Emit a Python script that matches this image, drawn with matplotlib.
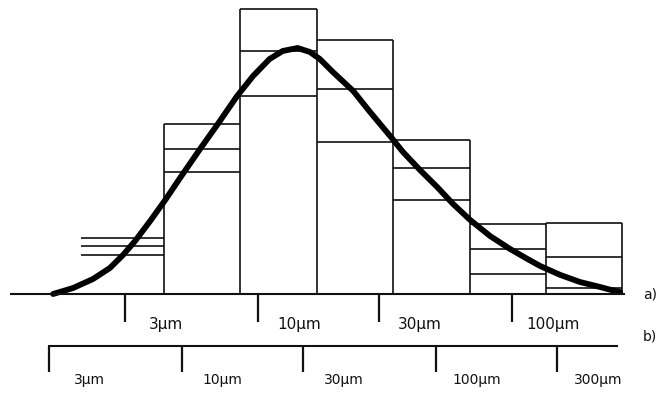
import numpy as np
import matplotlib.pyplot as plt

# size classes (µm, scale a), octave bins
bin_edges = [2.0, 4.25, 8.5, 17.0, 34.0, 68.0, 136.0, 272.0]
# three frequency levels drawn in each class (arbitrary units)
level_top = [5.6, 17.0, 28.5, 25.4, 15.4, 7.0, 7.1]
level_mid = [4.8, 14.5, 24.3, 20.5, 12.6, 4.5, 3.7]
level_low = [3.9, 12.2, 19.8, 15.2, 9.4, 2.0, 0.6]

# smooth distribution curve
curve_um = [1.56, 1.87, 2.24, 2.61, 2.94, 3.28, 3.76, 4.31, 4.93, 5.91,
            6.90, 8.27, 9.56, 11.1, 12.5, 14.3, 16.0, 17.5, 19.7, 23.7,
            27.6, 33.1, 37.2, 43.4, 50.7, 58.6, 68.4, 81.9, 98.2, 115,
            129, 155, 185, 222, 250, 266]
curve_h = [0.0, 0.6, 1.5, 2.6, 3.9, 5.3, 7.3, 9.4, 11.6, 14.5,
           16.9, 19.8, 21.8, 23.5, 24.3, 24.6, 24.2, 23.5, 22.2, 20.3,
           18.2, 15.8, 14.2, 12.4, 10.7, 9.0, 7.4, 5.8, 4.5, 3.5,
           2.8, 1.9, 1.2, 0.7, 0.35, 0.2]

# scale a) and scale b) tick labels (b = 2 x a)
ticks_a = [3, 10, 30, 100]
ticks_b = [3, 10, 30, 100, 300]
b_factor = 2.0

fig = plt.figure(figsize=(6.66, 3.98), dpi=100)
ax = fig.add_axes([0, 0, 1, 1])
ax.set_xscale('log')
ax.set_xlim(0.964, 403.6)
ax.set_ylim(-10.4, 29.4)
ax.axis('off')

ink = '#111111'

# class outlines: horizontal levels + vertical edges
n = len(level_top)
for i in range(n):
    x0, x1 = bin_edges[i], bin_edges[i + 1]
    for lev in (level_top[i], level_mid[i], level_low[i]):
        ax.hlines(lev, x0, x1, color=ink, lw=1.2)
for j in range(1, len(bin_edges)):
    left = level_top[j - 1] if j > 1 else 0
    right = level_top[j] if j < n else 0
    ax.vlines(bin_edges[j], 0, max(left, right), color=ink, lw=1.2)

# curve
ax.plot(curve_um, curve_h, color='black', lw=4.2, solid_capstyle='round',
        solid_joinstyle='round')

# scale a) (base line of histogram)
ax.hlines(0, 1.057, 278, color=ink, lw=1.5)
for t in ticks_a:
    ax.vlines(t, -2.8, -0.1, color=ink, lw=1.6)
    ax.text(t * 1.45, -3.1, f'{t}µm', ha='center', va='center',
            fontsize=11, color=ink)
ax.text(348, 0.0, 'a)', ha='center', va='center', fontsize=10, color=ink)

# scale b)
ax.hlines(-5.2, 1.49, 261, color=ink, lw=1.5)
for t in ticks_b:
    ax.vlines(t / b_factor, -7.8, -5.2, color=ink, lw=1.6)
    ax.text(t / b_factor * 1.45, -8.6, f'{t}µm', ha='center', va='center',
            fontsize=10, color=ink)
ax.text(348, -4.2, 'b)', ha='center', va='center', fontsize=10, color=ink)

fig.savefig('out.png', dpi=100)
